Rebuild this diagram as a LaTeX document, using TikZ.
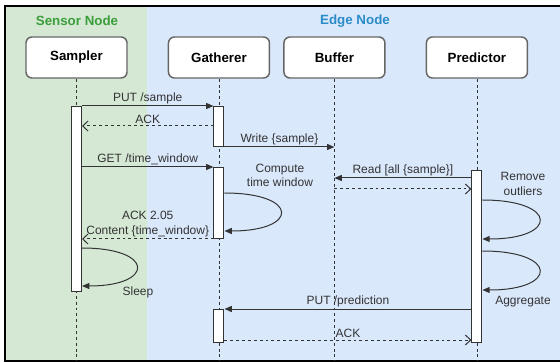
\documentclass[tikz,border=0pt]{standalone}
\usepackage{fontspec}
\setmainfont{Liberation Sans}
\usepackage{xcolor}
\usetikzlibrary{arrows.meta,positioning}
\definecolor{sensorfill}{HTML}{D5E8D4}
\definecolor{edgefill}{HTML}{DAE8FC}
\definecolor{sensortext}{HTML}{3A9E3A}
\definecolor{edgetext}{HTML}{2B8CC8}
\definecolor{linegray}{HTML}{333333}
\definecolor{boxgray}{HTML}{666666}

\begin{document}
\begin{tikzpicture}[
    x=0.75pt, y=-0.75pt,
    font=\fontsize{9}{11}\selectfont,
    actor/.style={draw=boxgray, line width=1.1pt, rounded corners=4.5pt, fill=white, minimum width=75.75pt, minimum height=30.75pt, font=\fontsize{10}{12}\selectfont\bfseries},
    lifeline/.style={draw=linegray, line width=0.6pt, dash pattern=on 2.2pt off 2.2pt},
    bar/.style={draw=linegray, line width=0.75pt, fill=white, minimum width=7.5pt, inner sep=0pt, anchor=north},
    msg/.style={draw=linegray, line width=0.75pt, -{Triangle[length=5.5pt,width=4.5pt]}},
    reply/.style={draw=linegray, line width=0.75pt, dash pattern=on 2.2pt off 2.2pt, -{Straight Barb[length=4pt,width=7.5pt]}},
    lbl/.style={text=linegray, align=center, inner sep=1.5pt},
    zone/.style={font=\fontsize{10}{12}\selectfont\bfseries}
]
\useasboundingbox (0,0) rectangle (560,363);
\fill[sensorfill] (5,6) rectangle (147,361);
\fill[edgefill] (147,6) rectangle (560,361);
\draw[line width=0.9pt] (560,6) -- (5,6) -- (5,361) -- (560,361);
\node[zone, text=sensortext] (sensorzone) at (77,21) {Sensor Node};
\node[zone, text=edgetext] (edgezone) at (355,21) {Edge Node};

\node[actor] (sampler) at (76.5,57.5) {Sampler};
\node[actor, right=30pt of sampler] (gatherer) {Gatherer};
\node[actor, right=9.75pt of gatherer] (buffer) {Buffer};
\node[actor, right=30pt of buffer] (predictor) {Predictor};
\draw[lifeline] (sampler.south) -- (sampler.south |- 0,361);
\draw[lifeline] (gatherer.south) -- (gatherer.south |- 0,361);
\draw[lifeline] (buffer.south) -- (buffer.south |- 0,361);
\draw[lifeline] (predictor.south) -- (predictor.south |- 0,361);

\node[bar, minimum height=138.75pt] (samplerAct) at (sampler.south |- 0,106) {};
\node[bar, minimum height=30pt] (gathererActA) at (gatherer.south |- 0,106) {};
\node[bar, minimum height=53.25pt] (gathererActB) at (gatherer.south |- 0,167) {};
\node[bar, minimum height=24.75pt] (gathererActC) at (gatherer.south |- 0,309) {};
\node[bar, minimum height=129pt] (predictorAct) at (predictor.south |- 0,170) {};

\draw[msg] (samplerAct.east |- 0,106) -- node[lbl, above] {PUT /sample} (gathererActA.west |- 0,106);
\draw[reply] (gathererActA.west |- 0,126) -- node[lbl, above] {ACK} (samplerAct.east |- 0,126);
\draw[msg] (gathererActA.south east) -- node[lbl, above] {Write \{sample\}} (buffer.south |- gathererActA.south);
\draw[msg] (samplerAct.east |- gathererActB.north) -- node[lbl, above] {GET /time\_window} (gathererActB.north west);
\draw[msg] (predictorAct.west |- 0,178) -- node[lbl, above] {Read [all \{sample\}]} (buffer.south |- 0,178);
\draw[reply] (buffer.south |- 0,189) -- (predictorAct.west |- 0,189);
\node[lbl] (computeLbl) at (280,175.5) {Compute\\time window};
\draw[msg] (gathererActB.east |- 0,193) .. controls +(75,0) and +(75,0) .. (gathererActB.east |- 0,231);
\draw[reply] (gathererActB.south west) -- node[lbl, above] {ACK 2.05\\Content \{time\_window\}} (samplerAct.east |- gathererActB.south);
\draw[msg] (samplerAct.east |- 0,248) .. controls +(73,0) and +(73,0) .. (samplerAct.east |- 0,286);
\node[lbl] (sleepLbl) at (138,292) {Sleep};
\node[lbl] (removeLbl) at (523,184) {Remove\\outliers};
\draw[msg] (predictorAct.east |- 0,200) .. controls +(76,0) and +(76,0) .. (predictorAct.east |- 0,239);
\draw[msg] (predictorAct.east |- 0,251) .. controls +(76,0) and +(76,0) .. (predictorAct.east |- 0,290);
\node[lbl] (aggregateLbl) at (523,302) {Aggregate};
\draw[msg] (predictorAct.west |- gathererActC.north) -- node[lbl, above] {PUT /prediction} (gathererActC.north east);
\draw[reply] (gathererActC.east |- 0,340) -- node[lbl, above] {ACK} (predictorAct.west |- 0,340);
\end{tikzpicture}
\end{document}
